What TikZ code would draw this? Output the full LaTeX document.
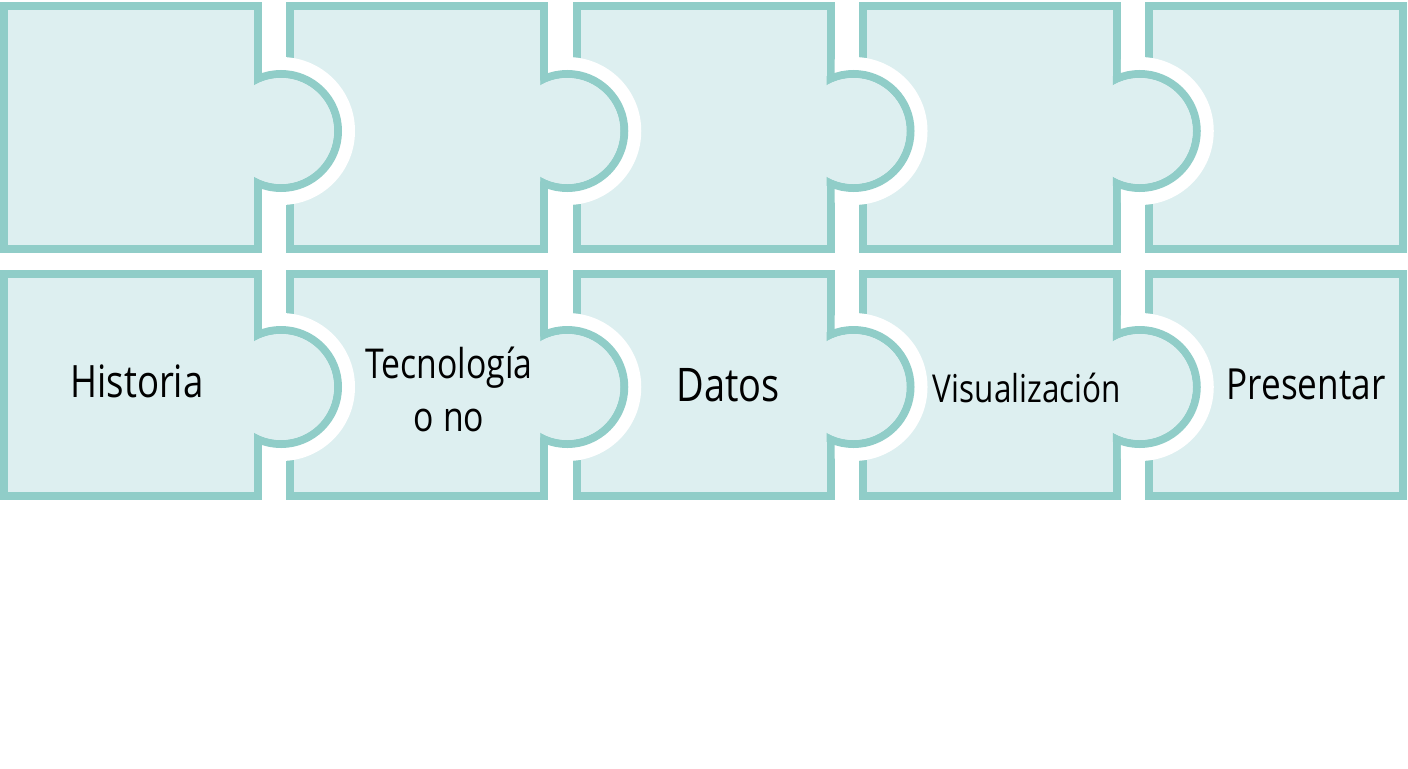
\documentclass[tikz,border=0pt]{standalone}
\usepackage{fontspec}
\setmainfont{Open Sans}
\usepackage{graphicx}
\usepackage{tikz}
\usetikzlibrary{positioning}
\definecolor{pieceFill}{RGB}{221, 239, 240}
\definecolor{pieceLine}{RGB}{144, 205, 200}
\newcommand{\tallword}[1]{\scalebox{1}[1.22]{#1}}

\begin{document}
\begin{tikzpicture}[x=0.25mm, y=-0.25mm,
  piece/.style={fill=pieceFill, draw=pieceLine, line width=2mm},
  word/.style={text=black, align=center, inner sep=0pt}]
  \useasboundingbox (0, 0) rectangle (1408, 768);

  % two rows of pieces
  \foreach \ya/\yb in {2/253, 270/500} {
    \foreach \i in {0,...,4} {
      \pgfmathsetmacro\xl{286.25*\i}
      \draw[piece] (\xl+4, \ya+4) rectangle (\xl+258, \yb-4);
    }
  }

  % knobs and sockets
  \foreach \yk in {131, 387} {
    \foreach \i in {0,...,3} {
      \pgfmathsetmacro\xr{286.25*\i+262}
      \begin{scope}
        \clip (\xr, \yk-90) rectangle (\xr+110, \yk+90);
        \fill[white] (\xr+19, \yk) circle (74);
      \end{scope}
      \begin{scope}
        \clip (\xr-8, \yk-90) rectangle (\xr+110, \yk+90);
        \draw[piece] (\xr+19, \yk) circle (57);
      \end{scope}
      \fill[pieceFill] (\xr+19, \yk) circle (53);
    }
  }

  \node[word, font=\fontsize{26}{30}\selectfont] (historia) at (137, 381) {\tallword{Historia}};
  \node[word, font=\fontsize{24}{37.7}\selectfont] (tecnologia) at (449, 389) {\tallword{Tecnología}\\\tallword{o no}};
  \node[word, font=\fontsize{27}{30}\selectfont] (datos) at (728, 385) {\tallword{Datos}};
  \node[word, font=\fontsize{22.4}{26}\selectfont] (visualizacion) at (1027, 388) {\tallword{Visualización}};
  \node[word, font=\fontsize{25}{30}\selectfont] (presentar) at (1306, 384) {\tallword{Presentar}};
\end{tikzpicture}
\end{document}
